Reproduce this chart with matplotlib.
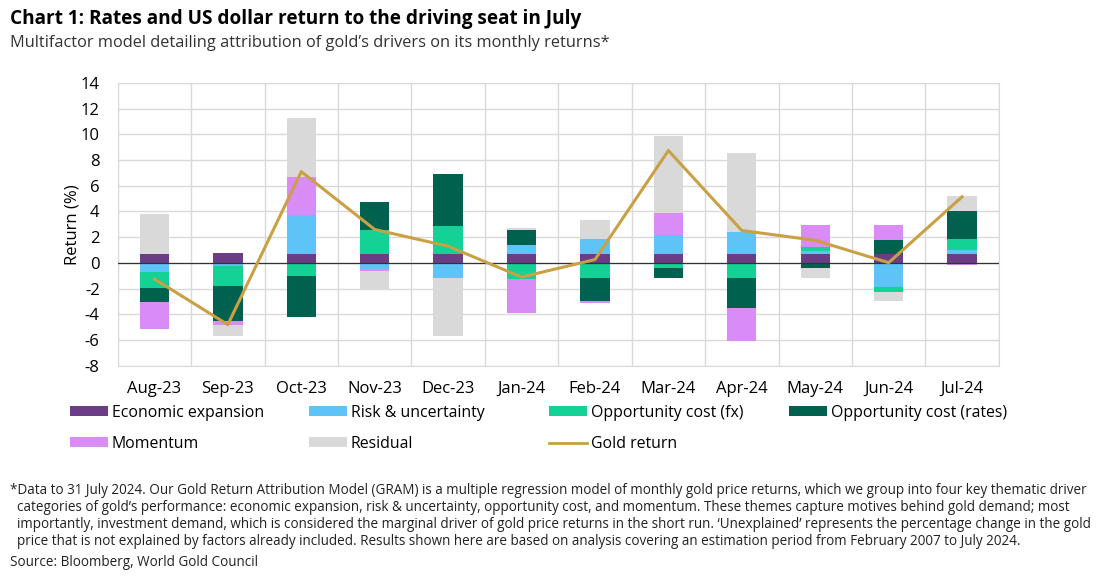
import matplotlib
matplotlib.use("Agg")
from matplotlib import pyplot as plt
from matplotlib.patches import Patch
from matplotlib.lines import Line2D
import numpy as np

plt.rcParams['font.family'] = ['Open Sans', 'DejaVu Sans']
plt.rcParams['axes.unicode_minus'] = False

months = ['Aug-23', 'Sep-23', 'Oct-23', 'Nov-23', 'Dec-23', 'Jan-24',
          'Feb-24', 'Mar-24', 'Apr-24', 'May-24', 'Jun-24', 'Jul-24']
econ = [0.73, 0.78, 0.73, 0.73, 0.73, 0.73, 0.73, 0.73, 0.73, 0.73, 0.73, 0.73]
risk = [-0.67, -0.26, 2.98, -0.47, -1.17, 0.70, 1.12, 1.43, 1.66, 0.23, -1.87, 0.31]
fx = [-1.27, -1.50, -1.01, 1.84, 2.15, -1.22, -1.17, -0.42, -1.17, 0.31, -0.42, 0.80]
rates = [-1.10, -2.78, -3.22, 2.18, 4.05, 1.12, -1.79, -0.73, -2.36, -0.42, 1.04, 2.18]
momentum = [-2.07, -0.28, 3.01, -0.18, 0.0, -2.65, -0.16, 1.69, -2.52, 1.66, 1.19, -0.16]
residual = [3.10, -0.83, 4.57, -1.45, -4.54, 0.15, 1.50, 6.02, 6.17, -0.73, -0.70, 1.22]
gold = [-1.25, -4.8, 7.1, 2.6, 1.3, -1.1, 0.26, 8.74, 2.52, 1.76, 0.02, 5.14]

series = [
    ("Economic expansion", econ, "#6b3d87"),
    ("Risk & uncertainty", risk, "#5ec4f8"),
    ("Opportunity cost (fx)", fx, "#14d195"),
    ("Opportunity cost (rates)", rates, "#00614f"),
    ("Momentum", momentum, "#d98bf6"),
    ("Residual", residual, "#d9d9d9"),
]
gold_col = "#c9a044"

fig = plt.figure(figsize=(11, 5.76), dpi=100)
ax = fig.add_axes([0.107, 0.365, 0.801, 0.491])

x = np.arange(len(months))
pos = np.zeros(len(months))
neg = np.zeros(len(months))
# excel style stacking: positives up, negatives down
for name, vals, col in series:
    v = np.array(vals)
    bottom = np.where(v >= 0, pos, neg)
    ax.bar(x, v, width=0.4, bottom=bottom, color=col, zorder=3)
    pos = pos + np.where(v > 0, v, 0)
    neg = neg + np.where(v < 0, v, 0)

ax.plot(x, gold, color=gold_col, lw=2.2, zorder=4)
ax.axhline(0, color="#333333", lw=0.9, zorder=3.5)

ax.set_xlim(-0.5, len(months) - 0.5)
ax.set_ylim(-8, 14)
ax.set_yticks(range(-8, 15, 2))
ax.set_xticks(x)
ax.set_xticklabels(months)
ax.set_xticks(np.arange(-0.5, len(months), 1), minor=True)
ax.grid(axis='y', color="#d9d9d9", lw=1, zorder=0)
ax.grid(axis='x', which='minor', color="#d9d9d9", lw=1, zorder=0)
ax.tick_params(which='both', length=0)
ax.tick_params(axis='both', labelsize=12, colors="#000000")
ax.tick_params(axis='x', pad=11)
ax.tick_params(axis='y', pad=13)
for s in ax.spines.values():
    s.set_color("#d9d9d9")
ax.set_ylabel("Return (%)", fontsize=12, labelpad=0)

handles = [Patch(facecolor=c, label=n) for n, _, c in series]
handles.append(Line2D([], [], color=gold_col, lw=2, label="Gold return"))
columns = [[0, 4], [1, 5], [2, 6], [3]]
col_x = [70, 309, 549, 789]
for idx, cx in zip(columns, col_x):
    leg = fig.legend(handles=[handles[i] for i in idx], loc='upper left',
                     bbox_to_anchor=(cx / 1100, 1 - 405 / 576), ncol=1, frameon=False,
                     fontsize=11.4, handlelength=2.4, handleheight=0.6,
                     handletextpad=0.25, labelspacing=0.95, borderaxespad=0,
                     borderpad=0)

fig.text(0.009, 0.967, "Chart 1: Rates and US dollar return to the driving seat in July",
         fontsize=13.7, fontweight='bold', va='center')
fig.text(0.009, 0.925, "Multifactor model detailing attribution of gold\u2019s drivers on its monthly returns*",
         fontsize=11.8, color="#333333", va='center')

note = ["*Data to 31 July 2024. Our Gold Return Attribution Model (GRAM) is a multiple regression model of monthly gold price returns, which we group into four key thematic driver",
        "  categories of gold\u2019s performance: economic expansion, risk & uncertainty, opportunity cost, and momentum. These themes capture motives behind gold demand; most",
        "  importantly, investment demand, which is considered the marginal driver of gold price returns in the short run. \u2018Unexplained\u2019 represents the percentage change in the gold",
        "  price that is not explained by factors already included. Results shown here are based on analysis covering an estimation period from February 2007 to July 2024."]
for i, line in enumerate(note):
    fig.text(0.009, 1 - (490 + i * 17.2) / 576, line, fontsize=9.75, color="#222222",
             va='center')
fig.text(0.009, 1 - 562 / 576, "Source: Bloomberg, World Gold Council", fontsize=9.75,
         color="#222222", va='center')

fig.savefig("out.png", dpi=100)
